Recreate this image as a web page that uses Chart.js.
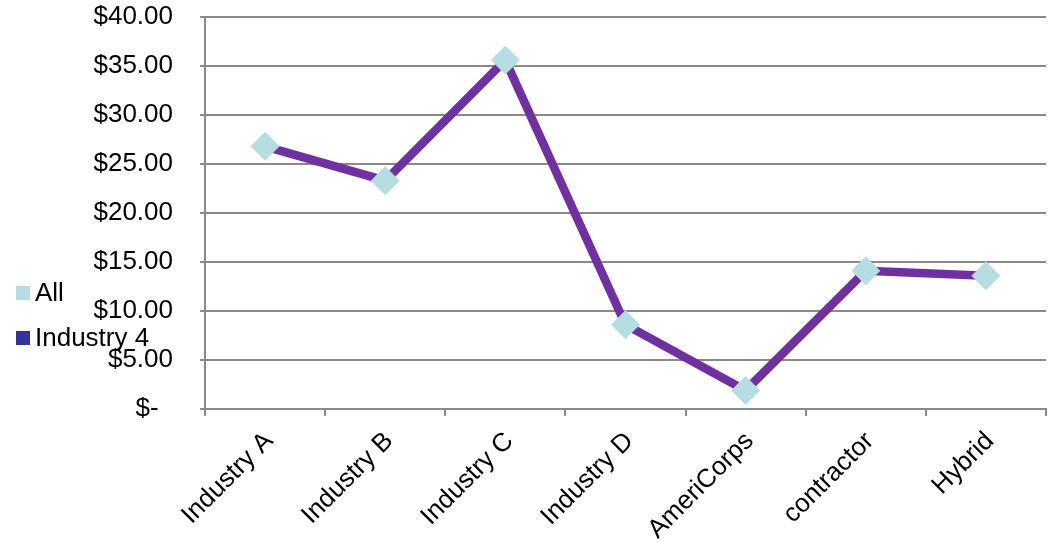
<!DOCTYPE html>
<html lang="en">
<head>
    <meta charset="UTF-8">
    <title>Hourly Rate by Industry</title>
    <script src="https://cdn.jsdelivr.net/npm/chart.js"></script>
    <style>
        html, body { margin: 0; padding: 0; background: #fff; }
        canvas { display: block; }
    </style>
</head>
<body>
    <canvas id="rateChart" width="1048" height="542"></canvas>

    <script>
        // Categories and series
        const categories = ['Industry A', 'Industry B', 'Industry C', 'Industry D', 'AmeriCorps', 'contractor', 'Hybrid'];
        const allValues = [26.8, 23.3, 35.6, 8.6, 1.9, 14.1, 13.6];
        const industry4Values = [26.8, 23.3, 35.6, 8.6, 1.9, 14.1, 13.6];
        const yTicks = [0, 5, 10, 15, 20, 25, 30, 35, 40];

        const gridColor = '#8a8a8a';
        const labelFont = { family: '"Liberation Sans", Arial, sans-serif', size: 26 };

        // Legend sits on the left, over the axis labels
        const sideLegend = {
            id: 'sideLegend',
            afterDraw(chart) {
                const ctx = chart.ctx;
                const items = [
                    { text: 'All', color: '#b6dde2', y: 293 },
                    { text: 'Industry 4', color: '#333399', y: 338 }
                ];
                ctx.save();
                ctx.font = labelFont.size + 'px ' + labelFont.family;
                ctx.textBaseline = 'middle';
                items.forEach(item => {
                    ctx.fillStyle = item.color;
                    ctx.fillRect(16, item.y - 7, 14, 14);
                    ctx.fillStyle = '#000';
                    ctx.fillText(item.text, 35, item.y + 1);
                });
                ctx.restore();
            }
        };

        function money(v) {
            if (v === 0) return '$-  ';
            return '$' + v.toFixed(2);
        }

        // keep the plot box fixed, labels may spill outside it
        function noPadding(scale) {
            scale.paddingTop = 0;
            scale.paddingBottom = 0;
            scale.paddingLeft = 0;
            scale.paddingRight = 0;
        }

        const ctx = document.getElementById('rateChart').getContext('2d');
        new Chart(ctx, {
            type: 'line',
            data: {
                labels: categories,
                datasets: [
                    {
                        label: 'All',
                        data: allValues,
                        showLine: false,
                        pointStyle: 'rectRot',
                        pointRadius: 14,
                        pointBackgroundColor: '#b6dde2',
                        pointBorderColor: '#b6dde2',
                        pointBorderWidth: 1
                    },
                    {
                        label: 'Industry 4',
                        data: industry4Values,
                        borderColor: '#7030a0',
                        borderWidth: 8.5,
                        pointRadius: 0,
                        tension: 0,
                        fill: false
                    }
                ]
            },
            options: {
                responsive: false,
                animation: false,
                layout: { autoPadding: false, padding: { top: 17, right: 2, left: 0, bottom: 0 } },
                plugins: {
                    legend: { display: false },
                    tooltip: { enabled: false }
                },
                scales: {
                    x: {
                        offset: true,
                        grid: {
                            offset: true,
                            drawOnChartArea: false,
                            drawTicks: true,
                            tickLength: 7,
                            color: gridColor,
                            lineWidth: 2
                        },
                        border: { color: gridColor, width: 2 },
                        ticks: {
                            minRotation: 45,
                            maxRotation: 45,
                            autoSkip: false,
                            labelOffset: 4,
                            padding: 10,
                            color: '#000',
                            font: labelFont
                        },
                        afterFit(scale) {
                            scale.height = 133;
                            noPadding(scale);
                        }
                    },
                    y: {
                        min: 0,
                        max: 40,
                        afterBuildTicks(scale) {
                            scale.ticks = yTicks.map(v => ({ value: v }));
                        },
                        grid: {
                            color: gridColor,
                            lineWidth: 2,
                            drawTicks: true,
                            tickLength: 5
                        },
                        border: { color: gridColor, width: 2 },
                        ticks: {
                            padding: 27,
                            color: '#000',
                            font: labelFont,
                            callback: v => money(v)
                        },
                        afterFit(scale) {
                            scale.width = 205;
                            noPadding(scale);
                        }
                    }
                }
            },
            plugins: [sideLegend]
        });
    </script>
</body>
</html>
